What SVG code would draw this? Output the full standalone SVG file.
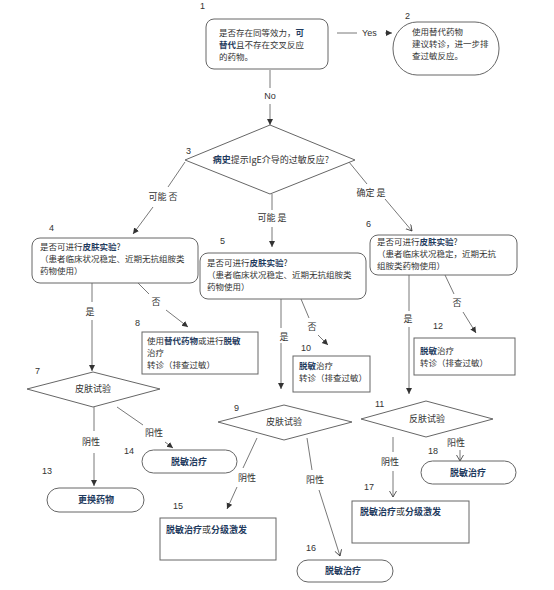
<svg xmlns="http://www.w3.org/2000/svg" width="554" height="590" viewBox="0 0 554 590">
<style>
.box{fill:#fff;stroke:#666;stroke-width:1}
.t{font-family:"Noto Sans CJK SC","Liberation Sans",sans-serif;font-size:9px;fill:#333}
.m{font-size:8.5px}
.b{font-weight:bold;fill:#1f3b5e}
.c{text-anchor:middle}
.n{font-family:"Liberation Sans",sans-serif;font-size:9px;fill:#333}
.ln{stroke:#555;stroke-width:0.8;fill:none}
.fa{marker-end:url(#af)}
.oa{marker-end:url(#ao)}
</style>
<defs>
<marker id="af" markerUnits="userSpaceOnUse" markerWidth="7" markerHeight="7" refX="6" refY="3" orient="auto"><path d="M0,0 L6,3 L0,6 z" fill="#333"/></marker>
<marker id="ao" markerUnits="userSpaceOnUse" markerWidth="8" markerHeight="8" refX="6" refY="3.5" orient="auto"><path d="M0,0 L6,3.5 L0,7" fill="none" stroke="#333" stroke-width="0.8"/></marker>
</defs>
<rect width="554" height="590" fill="#fff"/>

<g id="connectors">
<line class="ln" x1="337" y1="33" x2="357" y2="33"/>
<text class="n" x="362" y="36" font-size="8">Yes</text>
<line class="ln fa" x1="385" y1="33" x2="392" y2="33"/>
<line class="ln" x1="270" y1="70" x2="270" y2="88"/>
<text class="n c" x="270" y="99">No</text>
<line class="ln fa" x1="270" y1="104" x2="270" y2="125"/>

<line class="ln" x1="185" y1="162" x2="168" y2="187"/>
<text class="t c" x="163" y="200">可能 否</text>
<line class="ln fa" x1="153" y1="207" x2="133" y2="234"/>
<line class="ln" x1="272" y1="194" x2="272" y2="210"/>
<text class="t c" x="272" y="221">可能 是</text>
<line class="ln fa" x1="272" y1="227" x2="272" y2="247"/>
<line class="ln" x1="349" y1="162" x2="367" y2="184"/>
<text class="t c" x="371" y="196">确定 是</text>
<line class="ln oa" x1="385" y1="199" x2="412" y2="231"/>

<line class="ln" x1="92" y1="283" x2="92" y2="302"/>
<text class="t c" x="90" y="315">是</text>
<line class="ln fa" x1="92" y1="320" x2="92" y2="371"/>
<line class="ln" x1="138" y1="283" x2="149" y2="294"/>
<text class="t c" x="156" y="305">否</text>
<line class="ln fa" x1="166" y1="310" x2="188" y2="327"/>

<line class="ln" x1="281" y1="299" x2="281" y2="328"/>
<text class="t c" x="284" y="340">是</text>
<line class="ln fa" x1="281" y1="343" x2="281" y2="389"/>
<line class="ln" x1="301" y1="299" x2="309" y2="318"/>
<text class="t c" x="312" y="330">否</text>
<line class="ln fa" x1="318" y1="335" x2="328" y2="345"/>

<line class="ln" x1="409" y1="275" x2="409" y2="311"/>
<text class="t c" x="408" y="322">是</text>
<line class="ln fa" x1="409" y1="327" x2="409" y2="394"/>
<line class="ln" x1="445" y1="275" x2="454" y2="294"/>
<text class="t c" x="457" y="306">否</text>
<line class="ln fa" x1="463" y1="312" x2="476" y2="333"/>

<line class="ln" x1="94" y1="407" x2="94" y2="431"/>
<text class="t c" x="91" y="445">阴性</text>
<line class="ln fa" x1="94" y1="453" x2="94" y2="486"/>
<line class="ln" x1="117" y1="407" x2="143" y2="425"/>
<text class="t c" x="154" y="436">阳性</text>
<line class="ln fa" x1="165" y1="442" x2="173" y2="448"/>

<line class="ln" x1="257" y1="438" x2="243" y2="468"/>
<text class="t c" x="247" y="481">阴性</text>
<line class="ln fa" x1="237" y1="487" x2="227" y2="509"/>
<line class="ln" x1="307" y1="438" x2="312" y2="470"/>
<text class="t c" x="315" y="483">阳性</text>
<line class="ln oa" x1="319" y1="490" x2="340" y2="556"/>

<line class="ln" x1="393" y1="437" x2="393" y2="452"/>
<text class="t c" x="390" y="465">阴性</text>
<line class="ln oa" x1="393" y1="471" x2="393" y2="497"/>
<line class="ln" x1="460" y1="437" x2="460" y2="439" stroke-dasharray="2,2"/>
<text class="t c" x="456" y="446">阳性</text>
<line class="ln oa" x1="460" y1="450" x2="460" y2="461"/>
</g>

<g id="node1">
<text class="n" x="200" y="9">1</text>
<rect class="box" x="206" y="19" width="122" height="50" rx="8"/>
<text class="t m" x="219" y="36">是否存在同等效力，<tspan class="b">可</tspan></text>
<text class="t m" x="219" y="48"><tspan class="b">替代</tspan>且不存在交叉反应</text>
<text class="t m" x="219" y="60">的药物。</text>
</g>

<g id="node2">
<text class="n" x="405" y="19">2</text>
<rect class="box" x="393" y="22" width="106" height="53" rx="24" ry="26"/>
<text class="t m" x="412" y="35">使用替代药物</text>
<text class="t m" x="412" y="47">建议转诊，进一步排</text>
<text class="t m" x="412" y="59">查过敏反应。</text>
</g>

<g id="node3">
<text class="n" x="186" y="154">3</text>
<polygon class="box" points="270,125 355,160 270,194 185,160"/>
<text class="t c" x="271" y="163"><tspan class="b">病史</tspan>提示IgE介导的过敏反应?</text>
</g>

<g id="node4">
<text class="n" x="49" y="231">4</text>
<rect class="box" x="32" y="238" width="166" height="45" rx="8"/>
<text class="t m" x="40" y="250">是否可进行<tspan class="b">皮肤实验</tspan>?</text>
<text class="t m" x="40" y="262">（患者临床状况稳定、近期无抗组胺类</text>
<text class="t m" x="40" y="274">药物使用）</text>
</g>

<g id="node5">
<text class="n" x="220" y="244">5</text>
<rect class="box" x="200" y="253" width="166" height="46" rx="8"/>
<text class="t m" x="207" y="266">是否可进行<tspan class="b">皮肤实验</tspan>?</text>
<text class="t m" x="207" y="278">（患者临床状况稳定、近期无抗组胺类</text>
<text class="t m" x="207" y="290">药物使用）</text>
</g>

<g id="node6">
<text class="n" x="366" y="227">6</text>
<rect class="box" x="370" y="235" width="147" height="40" rx="8"/>
<text class="t m" x="377" y="245">是否可进行<tspan class="b">皮肤实验</tspan>?</text>
<text class="t m" x="377" y="257">（患者临床状况稳定，近期无抗</text>
<text class="t m" x="377" y="269">组胺类药物使用）</text>
</g>

<g id="node7">
<text class="n" x="35" y="374">7</text>
<polygon class="box" points="93,372 160,389 93,407 27,389"/>
<text class="t c" x="93" y="392">皮肤试验</text>
</g>

<g id="node8">
<text class="n" x="135" y="326">8</text>
<rect class="box" x="142" y="332" width="116" height="42"/>
<text class="t m" x="147" y="344">使用<tspan class="b">替代药物</tspan>或进行<tspan class="b">脱敏</tspan></text>
<text class="t m" x="147" y="356">治疗</text>
<text class="t m" x="147" y="368">转诊（排查过敏）</text>
</g>

<g id="node9">
<text class="n" x="234" y="411">9</text>
<polygon class="box" points="284,405 352,422 284,440 218,422"/>
<text class="t c" x="284" y="425">皮肤试验</text>
</g>

<g id="node10">
<text class="n" x="301" y="351">10</text>
<rect class="box" x="293" y="356" width="77" height="36"/>
<text class="t m" x="299" y="369"><tspan class="b">脱敏</tspan>治疗</text>
<text class="t m" x="299" y="381">转诊（排查过敏）</text>
</g>

<g id="node11">
<text class="n" x="375" y="407">11</text>
<polygon class="box" points="426,401 493,419 426,437 361,419"/>
<text class="t c" x="427" y="422">反肤试验</text>
</g>

<g id="node12">
<text class="n" x="433" y="329">12</text>
<rect class="box" x="414" y="338" width="101" height="37"/>
<text class="t m" x="420" y="354"><tspan class="b">脱敏</tspan>治疗</text>
<text class="t m" x="420" y="366">转诊（排查过敏）</text>
</g>

<g id="node13">
<text class="n" x="42" y="474">13</text>
<rect class="box" x="47" y="488" width="97" height="24" rx="12"/>
<text class="t b c" x="96" y="503">更换药物</text>
</g>

<g id="node14">
<text class="n" x="124" y="454">14</text>
<rect class="box" x="142" y="450" width="95" height="23" rx="11.5"/>
<text class="t b c" x="189" y="465">脱敏治疗</text>
</g>

<g id="node15">
<text class="n" x="173" y="509">15</text>
<rect class="box" x="160" y="518" width="116" height="42"/>
<text class="t" x="166" y="533"><tspan class="b">脱敏治疗</tspan>或<tspan class="b">分级激发</tspan></text>
</g>

<g id="node16">
<text class="n" x="306" y="551">16</text>
<rect class="box" x="297" y="560" width="96" height="22" rx="11"/>
<text class="t b c" x="343" y="574">脱敏治疗</text>
</g>

<g id="node17">
<text class="n" x="364" y="490">17</text>
<rect class="box" x="352" y="501" width="117" height="42"/>
<text class="t" x="360" y="515"><tspan class="b">脱敏治疗</tspan>或<tspan class="b">分级激发</tspan></text>
</g>

<g id="node18">
<text class="n" x="428" y="454">18</text>
<rect class="box" x="421" y="461" width="95" height="23" rx="11.5"/>
<text class="t b c" x="468" y="476">脱敏治疗</text>
</g>
</svg>
